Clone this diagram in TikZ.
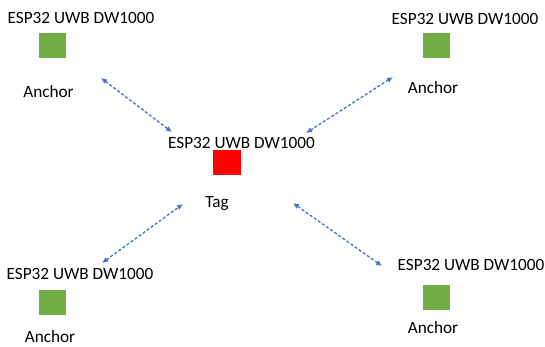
\documentclass[tikz,border=0pt]{standalone}
\usepackage{fontspec}
\setmainfont{Carlito}
\usetikzlibrary{arrows.meta}
\definecolor{offblue}{RGB}{68,114,196}
\definecolor{offgreen}{RGB}{112,173,71}
\begin{document}
\begin{tikzpicture}[x=1pt,y=-1pt,
  lbl/.style={inner sep=0pt,anchor=base,font=\fontsize{17.2}{20}\selectfont},
  anchorbox/.style={fill=offgreen,minimum width=27pt,minimum height=25pt,inner sep=0pt},
  tagbox/.style={fill=red,minimum width=28pt,minimum height=25pt,inner sep=0pt},
  link/.style={draw=offblue,line width=1.3pt,dash pattern=on 3pt off 2pt,{Latex[length=6pt,width=5.5pt]}-{Latex[length=6pt,width=5.5pt]}}]
\useasboundingbox (0,0) rectangle (545,347);
% top left
\node[lbl] (tlt) at (81,24) {ESP32 UWB DW1000};
\node[anchorbox] (tls) at (52.5,45.5) {};
\node[lbl] (tla) at (48.5,97.5) {Anchor};
% top right
\node[lbl] (trt) at (465,24.5) {ESP32 UWB DW1000};
\node[anchorbox] (trs) at (436.5,45.5) {};
\node[lbl] (tra) at (433,93.5) {Anchor};
% center
\node[lbl] (ct) at (241.5,148.5) {ESP32 UWB DW1000};
\node[tagbox] (cs) at (227,162.5) {};
\node[lbl] (ca) at (217,207.5) {Tag};
% bottom left
\node[lbl] (blt) at (80,279) {ESP32 UWB DW1000};
\node[anchorbox] (bls) at (52.5,302.5) {};
\node[lbl] (bla) at (50,342) {Anchor};
% bottom right
\node[lbl] (brt) at (471,270.5) {ESP32 UWB DW1000};
\node[anchorbox] (brs) at (436.5,297.5) {};
\node[lbl] (bra) at (433,333) {Anchor};
% link ends
\coordinate (a1) at (101,78);
\coordinate (b1) at (172,132);
\coordinate (a2) at (393,77);
\coordinate (b2) at (306,133);
\coordinate (a3) at (102,263);
\coordinate (b3) at (183,204);
\coordinate (a4) at (382,266);
\coordinate (b4) at (293,203);
\draw[link] (a1) -- (b1);
\draw[link] (a2) -- (b2);
\draw[link] (a3) -- (b3);
\draw[link] (a4) -- (b4);
\end{tikzpicture}
\end{document}
